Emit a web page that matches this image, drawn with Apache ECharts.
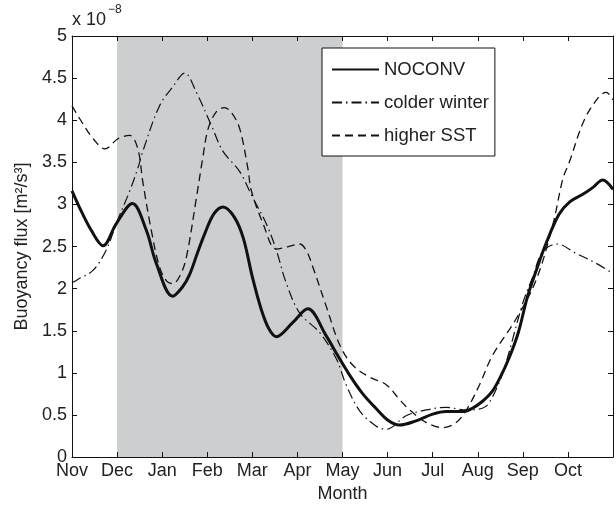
<!DOCTYPE html>
<html>
<head>
<meta charset="utf-8">
<script src="https://cdn.jsdelivr.net/npm/echarts@6/dist/echarts.min.js"></script>
<style>
  html, body { margin: 0; padding: 0; background: #fff; }
  #chart { width: 616px; height: 508px; }
</style>
</head>
<body>
<div id="chart"></div>
<script>
// Month labels at the start of each month (x = months since 1 Nov)
const monthLabels = ['Nov', 'Dec', 'Jan', 'Feb', 'Mar', 'Apr', 'May', 'Jun', 'Jul', 'Aug', 'Sep', 'Oct'];

// Winter period shaded in grey (Dec to May)
const winterSpan = [1, 6];

// Buoyancy flux, units of 1e-8 m^2/s^3, as [month, value]
const noconv = [
  [0.00, 3.16], [0.17, 2.96], [0.43, 2.69], [0.69, 2.51], [0.98, 2.77], [1.34, 3.01],
  [1.65, 2.69], [1.87, 2.30], [2.23, 1.91], [2.45, 2.02], [2.61, 2.17], [2.78, 2.42],
  [2.95, 2.66], [3.15, 2.89], [3.35, 2.97], [3.60, 2.85], [3.80, 2.60], [4.00, 2.14],
  [4.20, 1.75], [4.37, 1.52], [4.53, 1.43], [4.90, 1.60], [5.23, 1.76],
  [5.64, 1.44], [5.90, 1.20], [6.15, 0.98], [6.45, 0.75], [6.74, 0.58], [7.00, 0.44],
  [7.26, 0.38], [7.63, 0.43], [8.00, 0.51], [8.30, 0.54], [8.66, 0.54], [8.88, 0.58],
  [9.10, 0.66], [9.32, 0.78], [9.50, 0.95], [9.69, 1.17], [9.90, 1.48], [10.10, 1.90],
  [10.30, 2.22], [10.51, 2.53], [10.80, 2.88], [11.04, 3.03], [11.33, 3.12], [11.55, 3.20],
  [11.77, 3.29], [12.00, 3.18]
];

const colderWinter = [
  [0.00, 2.07], [0.13, 2.11], [0.47, 2.22], [0.76, 2.46], [0.98, 2.77], [1.28, 3.16],
  [1.46, 3.43], [1.57, 3.63], [1.94, 4.17], [2.24, 4.40], [2.50, 4.56], [2.76, 4.33],
  [3.09, 3.94], [3.35, 3.63], [3.72, 3.39], [4.01, 3.08], [4.31, 2.77], [4.53, 2.46],
  [4.75, 2.07], [5.05, 1.71], [5.49, 1.48], [5.86, 1.17], [6.08, 0.86], [6.38, 0.55],
  [6.74, 0.37], [6.97, 0.33], [7.41, 0.49], [7.86, 0.56], [8.30, 0.59], [8.75, 0.56],
  [9.10, 0.58], [9.26, 0.65], [9.56, 1.01], [10.00, 1.83], [10.22, 2.14], [10.44, 2.44],
  [10.76, 2.53], [11.18, 2.42], [11.63, 2.30], [12.00, 2.18]
];

const higherSST = [
  [0.00, 4.17], [0.25, 3.95], [0.47, 3.78], [0.73, 3.66], [1.02, 3.78], [1.28, 3.82],
  [1.46, 3.66], [1.57, 3.27], [1.76, 2.69], [1.94, 2.26], [2.10, 2.09], [2.24, 2.06],
  [2.40, 2.16], [2.54, 2.38], [2.76, 3.08], [2.90, 3.55], [3.02, 3.90], [3.20, 4.10],
  [3.38, 4.15], [3.55, 4.08], [3.72, 3.90], [3.90, 3.43], [3.98, 3.16], [4.24, 2.77],
  [4.53, 2.47], [4.80, 2.50], [5.05, 2.53], [5.20, 2.45], [5.34, 2.26], [5.64, 1.79],
  [5.94, 1.33], [6.23, 1.09], [6.60, 0.95], [6.97, 0.86], [7.27, 0.68], [7.49, 0.56],
  [7.86, 0.41], [8.23, 0.35], [8.52, 0.41], [8.75, 0.56], [9.04, 0.86], [9.33, 1.21],
  [9.85, 1.64], [10.30, 2.11], [10.67, 2.77], [10.89, 3.31], [11.03, 3.50], [11.36, 4.00],
  [11.69, 4.28], [11.85, 4.33], [12.00, 4.24]
];

const FONT = 'Liberation Sans, Arial, Helvetica, sans-serif';
const INK = '#111';
const TXT = '#222';

function axisLine() {
  return { show: true, onZero: false, lineStyle: { color: INK, width: 1 } };
}
function inTicks() {
  return { show: true, inside: true, length: 5, lineStyle: { color: INK, width: 1 } };
}

const chart = echarts.init(document.getElementById('chart'), null, { renderer: 'canvas' });

chart.setOption({
  animation: false,
  backgroundColor: '#fff',
  grid: { left: 72, right: 2, top: 36, bottom: 45, containLabel: false },
  xAxis: [
    {
      type: 'value', min: 0, max: 12, interval: 1, position: 'bottom', z: 5,
      axisLine: axisLine(), axisTick: inTicks(), splitLine: { show: false },
      axisLabel: {
        margin: 5, fontSize: 18, fontFamily: FONT, color: TXT,
        formatter: v => monthLabels[v] || ''
      },
      name: 'Month', nameLocation: 'middle', nameGap: 27,
      nameTextStyle: { fontSize: 18, fontFamily: FONT, color: TXT }
    },
    {
      type: 'value', min: 0, max: 12, interval: 1, position: 'top', z: 5,
      axisLine: axisLine(), axisTick: inTicks(), splitLine: { show: false },
      axisLabel: { show: false }
    }
  ],
  yAxis: [
    {
      type: 'value', min: 0, max: 5, interval: 0.5, position: 'left', z: 5,
      axisLine: axisLine(), axisTick: inTicks(), splitLine: { show: false },
      axisLabel: { margin: 5, fontSize: 18, fontFamily: FONT, color: TXT },
      name: 'Buoyancy flux [m²/s³]', nameLocation: 'middle', nameRotate: 90, nameGap: 40,
      nameTextStyle: { fontSize: 18, fontFamily: FONT, color: TXT }
    },
    {
      type: 'value', min: 0, max: 5, interval: 0.5, position: 'right', z: 5,
      axisLine: axisLine(), axisTick: inTicks(), splitLine: { show: false },
      axisLabel: { show: false }
    }
  ],
  legend: {
    orient: 'vertical', left: 322, top: 48,
    padding: [12, 6, 11, 9], itemGap: 14,
    itemWidth: 47, itemHeight: 18, itemStyle: { opacity: 0 },
    backgroundColor: '#fff', borderColor: INK, borderWidth: 1,
    textStyle: { fontSize: 18.5, fontFamily: FONT, color: TXT },
    data: ['NOCONV', 'colder winter', 'higher SST']
  },
  graphic: [
    { type: 'text', left: 72, top: 11, style: { text: 'x 10', fontSize: 18, fontFamily: FONT, fill: TXT } },
    { type: 'text', left: 108, top: 4, style: { text: '\u22128', fontSize: 12, fontFamily: FONT, fill: TXT } }
  ],
  series: [
    {
      // winter shading
      type: 'line', data: [], z: 1, silent: true,
      markArea: {
        silent: true,
        itemStyle: { color: '#cdced0' },
        data: [[{ xAxis: winterSpan[0] }, { xAxis: winterSpan[1] }]]
      }
    },
    {
      name: 'NOCONV', type: 'line', data: noconv, smooth: 0.35, symbol: 'none', z: 4,
      lineStyle: { color: INK, width: 3, type: 'solid' }, itemStyle: { color: INK }
    },
    {
      name: 'colder winter', type: 'line', data: colderWinter, smooth: 0.35, symbol: 'none', z: 3,
      lineStyle: { color: INK, width: 1.2, type: [10, 4, 1.5, 4] }, itemStyle: { color: INK }
    },
    {
      name: 'higher SST', type: 'line', data: higherSST, smooth: 0.35, symbol: 'none', z: 3,
      lineStyle: { color: INK, width: 1.3, type: [8, 5] }, itemStyle: { color: INK }
    }
  ]
});
</script>
</body>
</html>
